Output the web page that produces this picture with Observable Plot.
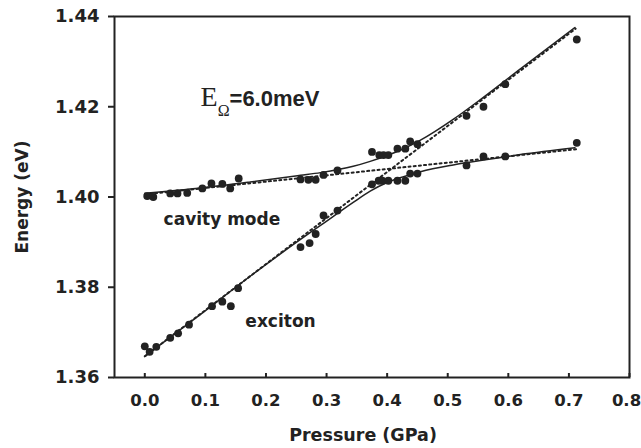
<!DOCTYPE html>
<html><head><meta charset="utf-8">
<script src="https://cdn.jsdelivr.net/npm/d3@7"></script>
<script src="https://cdn.jsdelivr.net/npm/@observablehq/plot@0.6"></script>
<style>body{margin:0;background:#fff;}</style>
</head><body><div id="chart"></div>
<script>
// ---- data ----
const xTicks = [0, 0.1, 0.2, 0.3, 0.4, 0.5, 0.6, 0.7, 0.8];
const yTicks = [1.36, 1.38, 1.40, 1.42, 1.44];
const xLabel = "Pressure (GPa)";
const yLabel = "Energy (eV)";

// measured points, upper branch
const upperP = [0.004,0.014,0.042,0.054,0.070,0.095,0.110,0.128,0.141,0.155,0.257,0.270,0.282,0.295,0.318,0.375,0.387,0.394,0.402,0.417,0.430,0.438,0.450,0.531,0.559,0.595,0.713];
const upperE = [1.4002,1.4000,1.4008,1.4008,1.4009,1.4019,1.4030,1.4029,1.4019,1.4041,1.4039,1.4038,1.4038,1.4049,1.4059,1.4100,1.4093,1.4093,1.4093,1.4107,1.4107,1.4123,1.4117,1.4180,1.4200,1.4250,1.4349];
// measured points, lower branch
const lowerP = [0.000,0.008,0.019,0.042,0.055,0.073,0.111,0.128,0.142,0.154,0.257,0.272,0.282,0.295,0.318,0.375,0.386,0.392,0.402,0.417,0.430,0.438,0.450,0.531,0.559,0.595,0.713];
const lowerE = [1.3669,1.3657,1.3668,1.3688,1.3698,1.3717,1.3758,1.3768,1.3758,1.3798,1.3889,1.3898,1.3918,1.3959,1.3970,1.4028,1.4036,1.4036,1.4036,1.4036,1.4036,1.4052,1.4052,1.4070,1.4090,1.4090,1.4120];

// fitted polariton branches (solid)
const upperFitP = [0, 0.092, 0.174, 0.257, 0.290, 0.344, 0.372, 0.400, 0.427, 0.455, 0.509, 0.548, 0.620, 0.710];
const upperFitE = [1.40082,1.40200,1.40333,1.40480,1.40540,1.40680,1.40790,1.40920,1.41070,1.41260,1.41720,1.42100,1.42840,1.43756];
const lowerFitP = [0, 0.092, 0.174, 0.257, 0.290, 0.344, 0.372, 0.400, 0.427, 0.455, 0.509, 0.565, 0.620, 0.710];
const lowerFitE = [1.36467,1.37400,1.38244,1.39060,1.39370,1.39880,1.40130,1.40320,1.40450,1.40560,1.40710,1.40830,1.40940,1.41090];

// uncoupled modes (dotted)
const excitonP = [0, 0.711];
const excitonE = [1.3647, 1.4373];
const cavityP  = [0, 0.713];
const cavityE  = [1.4006, 1.4106];

const annotParts = ["E", "\u03A9", "=6.0meV"];
const cavityLabel = "cavity mode";
const excitonLabel = "exciton";

// ---- build ----
const zip = (a, b) => a.map((v, i) => ({p: v, e: b[i]}));
const ink = "#222";
const lastTick = xTicks[xTicks.length - 1];

const chart = Plot.plot({
  width: 641, height: 448,
  marginLeft: 114, marginRight: 12, marginTop: 16, marginBottom: 71,
  style: "background:#fff;color:#222;font-family:'DejaVu Sans';font-weight:bold;",
  x: {domain: [-0.05, 0.8]},
  y: {domain: [1.36, 1.44]},
  marks: [
    Plot.frame({stroke: ink, strokeWidth: 2}),
    Plot.axisY({ticks: yTicks, tickFormat: d3.format(".2f"), tickSize: 6, tickPadding: 9, fontSize: 18, strokeWidth: 2, label: null}),
    Plot.axisX({ticks: xTicks, tickSize: 4, dy: -4, tickFormat: () => "", strokeWidth: 2, label: null}),
    Plot.axisX({ticks: xTicks.slice(0, -1), tickSize: 0, tickPadding: 17, tickFormat: d3.format(".1f"), fontSize: 16.5, label: null}),
    Plot.axisX({ticks: [lastTick], tickSize: 0, tickPadding: 17, dx: -3, tickFormat: d3.format(".1f"), fontSize: 16.5, label: null}),
    Plot.line(zip(excitonP, excitonE), {x: "p", y: "e", stroke: ink, strokeWidth: 2, strokeDasharray: "2,3.2"}),
    Plot.line(zip(cavityP, cavityE), {x: "p", y: "e", stroke: ink, strokeWidth: 2, strokeDasharray: "2,3.2"}),
    Plot.line(zip(upperFitP, upperFitE), {x: "p", y: "e", stroke: ink, strokeWidth: 1.5, curve: "monotone-x"}),
    Plot.line(zip(lowerFitP, lowerFitE), {x: "p", y: "e", stroke: ink, strokeWidth: 1.5, curve: "monotone-x"}),
    Plot.dot(zip(upperP, upperE), {x: "p", y: "e", r: 3.9, fill: ink, stroke: null}),
    Plot.dot(zip(lowerP, lowerE), {x: "p", y: "e", r: 3.9, fill: ink, stroke: null}),
    Plot.text([cavityLabel], {x: [0.031], y: [1.3939], textAnchor: "start", lineAnchor: "bottom", fontSize: 17, fontWeight: "bold", fill: ink}),
    Plot.text([excitonLabel], {x: [0.166], y: [1.3713], textAnchor: "start", lineAnchor: "bottom", fontSize: 17, fontWeight: "bold", fill: ink}),
    Plot.text([annotParts.join("")], {x: [0.092], y: [1.4202], textAnchor: "start", lineAnchor: "bottom", fontSize: 22, fill: ink, className: "annot"}),
    Plot.text([xLabel], {frameAnchor: "bottom", dy: 58, dx: -9, textAnchor: "middle", lineAnchor: "middle", fontSize: 17.5, fontWeight: "bold", fill: ink}),
    Plot.text([yLabel], {frameAnchor: "left", dx: -92, rotate: -90, textAnchor: "middle", lineAnchor: "middle", fontSize: 17, fontWeight: "bold", fill: ink})
  ]
});

d3.select(chart).selectAll("g.annot text").each(function () {
  const t = d3.select(this);
  t.text(null);
  t.append("tspan").attr("font-family", "'Liberation Serif'").attr("font-weight", "normal").attr("font-size", 28).text(annotParts[0]);
  t.append("tspan").attr("font-family", "'Liberation Serif'").attr("font-weight", "normal").attr("font-size", 16).attr("dy", 10).text(annotParts[1]);
  t.append("tspan").attr("font-family", "'Liberation Sans'").attr("font-weight", "bold").attr("font-size", 22).attr("dy", -10).text(annotParts[2]);
});

document.getElementById("chart").append(chart);
</script>
</body></html>
